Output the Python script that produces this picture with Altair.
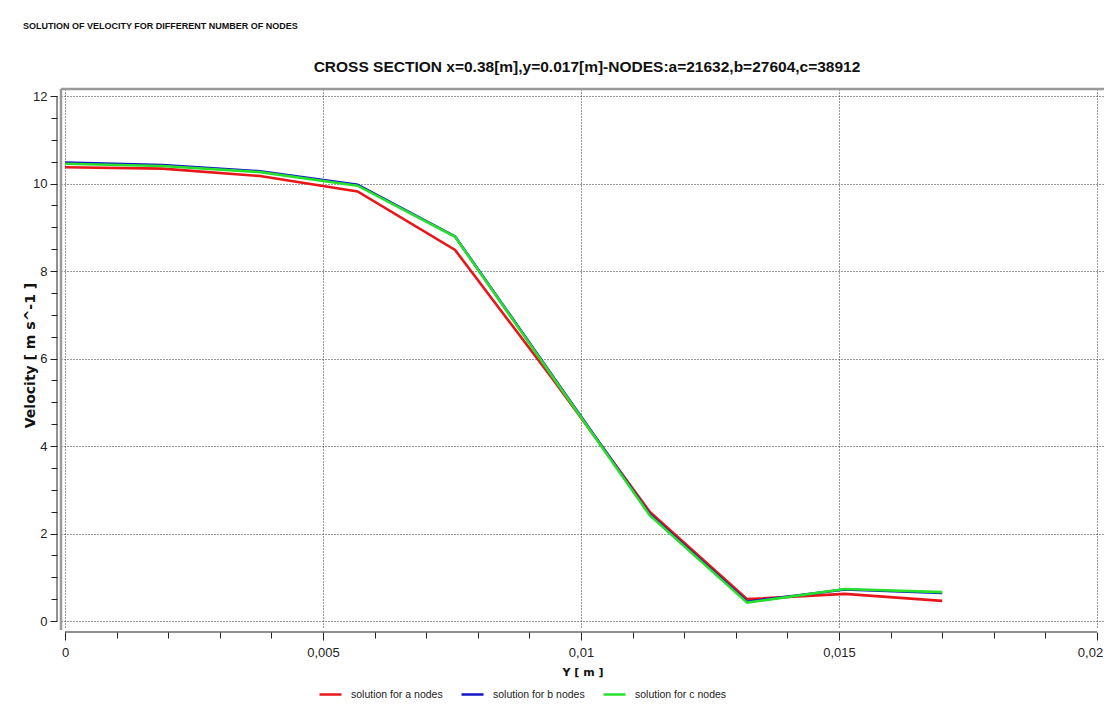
import altair as alt
import pandas as pd

# ---- data ----
y_pos = [0.0, 0.00189, 0.00378, 0.00567, 0.00756, 0.00944, 0.01133, 0.01322, 0.01511, 0.017]
vel_a = [10.37, 10.34, 10.17, 9.82, 8.48, 5.55, 2.50, 0.50, 0.62, 0.46]
vel_b = [10.48, 10.42, 10.28, 9.97, 8.79, 5.62, 2.44, 0.44, 0.72, 0.64]
vel_c = [10.45, 10.40, 10.26, 9.95, 8.78, 5.60, 2.42, 0.42, 0.73, 0.66]
series_names = ["solution for a nodes", "solution for b nodes", "solution for c nodes"]
series_colors = ["#e8161b", "#1414c8", "#26e02c"]

x_ticks = [0, 0.001, 0.002, 0.003, 0.004, 0.005, 0.006, 0.007, 0.008, 0.009, 0.01,
           0.011, 0.012, 0.013, 0.014, 0.015, 0.016, 0.017, 0.018, 0.019, 0.02]
y_ticks = [0, 0.5, 1, 1.5, 2, 2.5, 3, 3.5, 4, 4.5, 5, 5.5, 6, 6.5, 7, 7.5, 8,
           8.5, 9, 9.5, 10, 10.5, 11, 11.5, 12]

header_text = "SOLUTION OF VELOCITY FOR DIFFERENT NUMBER OF NODES"
title_text = "CROSS SECTION x=0.38[m],y=0.017[m]-NODES:a=21632,b=27604,c=38912"

rows = []
for name, vals in zip(series_names, [vel_a, vel_b, vel_c]):
    for i, (x, v) in enumerate(zip(y_pos, vals)):
        rows.append({"Y": x, "Velocity": v, "series": name, "idx": i})
df = pd.DataFrame(rows)

W, H = 1043, 538
XDOM = [-0.0000775, 0.020136]
YDOM = [-0.137, 12.16]
FONT = "Liberation Sans"

x_major = "round(datum.value*1000) % 5 == 0"
y_major = "round(datum.value*2) % 4 == 0"

x_axis = alt.Axis(
    values=x_ticks,
    labelExpr=f"{x_major} ? replace(toString(datum.value), '.', ',') : ''",
    tickSize={"condition": {"test": x_major, "value": 8}, "value": 6},
    tickColor="#222", tickWidth=1,
    grid=True, gridDash=[1, 2], gridColor="#333", gridWidth=1,
    gridOpacity={"condition": {"test": x_major, "value": 1}, "value": 0},
    domain=False, offset=5,
    labelFont=FONT, labelFontSize=13, labelColor="#222", labelPadding=6,
    labelFlush=False,
    labelOffset={"condition": {"test": "round(datum.value*1000) == 20", "value": -7}, "value": 0},
    title="Y [ m ]", titleFont="DejaVu Sans", titleFontWeight="bold",
    titleFontSize=11, titleColor="#111", titleY=40, titleBaseline="middle",
)
y_axis = alt.Axis(
    values=y_ticks,
    labelExpr=f"{y_major} ? toString(datum.value) : ''",
    tickSize={"condition": {"test": y_major, "value": 7}, "value": 6},
    tickColor="#222", tickWidth=1,
    grid=True, gridDash=[1, 2], gridColor="#333", gridWidth=1,
    gridOpacity={"condition": {"test": y_major, "value": 1}, "value": 0},
    domain=False, offset=4,
    labelFont=FONT, labelFontSize=13, labelColor="#222", labelPadding=3,
    labelFlush=False,
    title="Velocity [ m s^-1 ]", titleFont="DejaVu Sans", titleFontWeight="bold",
    titleFontSize=14, titleColor="#111", titleX=-27, titleY=H / 2 - 3,
    titleBaseline="middle", titleAngle=-90,
)

xs = alt.Scale(domain=XDOM, nice=False, zero=False)
ys = alt.Scale(domain=YDOM, nice=False, zero=False)

lines = alt.Chart(df).mark_line(strokeWidth=2.6).encode(
    x=alt.X("Y:Q", scale=xs, axis=x_axis),
    y=alt.Y("Velocity:Q", scale=ys, axis=y_axis),
    color=alt.Color(
        "series:N",
        scale=alt.Scale(domain=series_names, range=series_colors),
        legend=alt.Legend(
            orient="none", legendX=257, legendY=593, direction="horizontal",
            title=None, symbolType="stroke", symbolSize=484, symbolStrokeWidth=2.5,
            labelFont=FONT, labelFontSize=10.5, labelColor="#222", labelOffset=8,
            columnPadding=13,
        ),
    ),
    order="idx:Q",
)

axis_x_line = alt.Chart(pd.DataFrame({"Y": [0.0], "Y2": [0.02]})).mark_rule(
    color="#222", strokeWidth=1
).encode(x=alt.X("Y:Q", scale=xs, axis=x_axis), x2="Y2:Q", y=alt.value(H + 5))

axis_y_line = alt.Chart(pd.DataFrame({"V": [0.0], "V2": [12.0]})).mark_rule(
    color="#222", strokeWidth=1
).encode(y=alt.Y("V:Q", scale=ys, axis=y_axis), y2="V2:Q", x=alt.value(-4))

one = pd.DataFrame({"k": [0]})
frame_top = alt.Chart(one).mark_rule(color="#9a9a9a", strokeWidth=2.5).encode(
    x=alt.value(0), x2=alt.value(W), y=alt.value(0)
)
frame_left = alt.Chart(one).mark_rule(color="#9a9a9a", strokeWidth=2.5).encode(
    x=alt.value(0), y=alt.value(0), y2=alt.value(H + 3)
)

header = alt.Chart(pd.DataFrame({"t": [header_text]})).mark_text(
    font=FONT, fontSize=9, fontWeight="bold", align="left", baseline="alphabetic",
    color="#111",
).encode(text="t:N", x=alt.value(-38), y=alt.value(-60))

title = alt.Chart(pd.DataFrame({"t": [title_text]})).mark_text(
    font=FONT, fontSize=15.5, fontWeight="bold", align="center", baseline="alphabetic",
    color="#111",
).encode(text="t:N", x=alt.value(526), y=alt.value(-17))

chart = alt.layer(
    frame_top, frame_left, axis_x_line, axis_y_line, lines, header, title
).properties(
    width=W, height=H,
    autosize=alt.AutoSizeParams(type="none"),
    padding={"left": 53, "top": 81, "right": 0, "bottom": 72},
    background="white",
).configure_view(strokeWidth=0)

chart.save("out.html", embed_options={"renderer": "svg", "actions": False})
